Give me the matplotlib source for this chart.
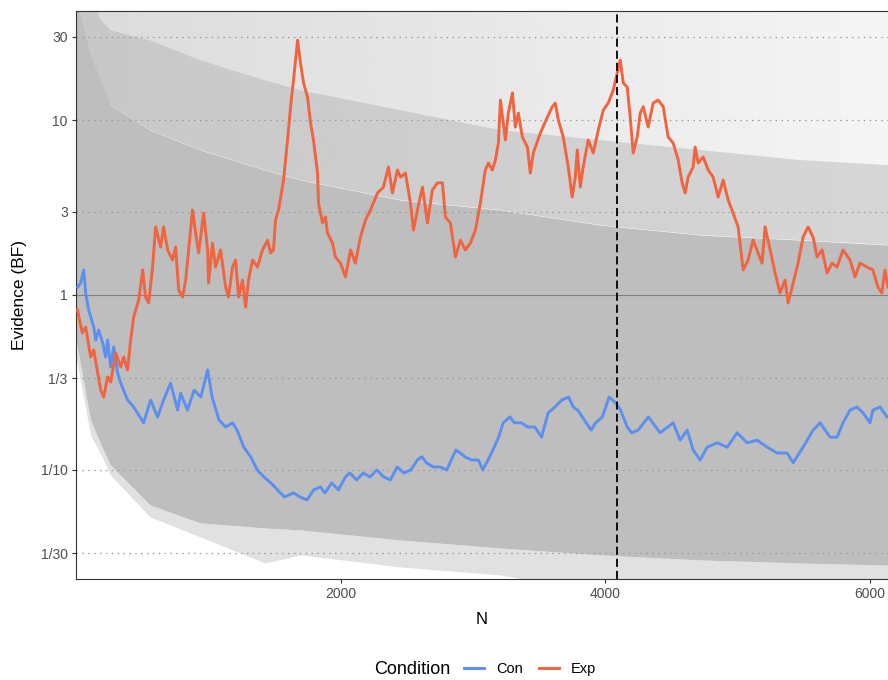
import numpy as np
import matplotlib
matplotlib.use("Agg")
import matplotlib.pyplot as plt
from matplotlib.lines import Line2D

plt.rcParams['font.family'] = ['Liberation Sans', 'DejaVu Sans']

# ---------------- data ----------------
exp_n = [11, 48, 73, 111, 134, 187, 209, 239, 262, 300, 338, 360, 390, 413, 436, 474, 504, 526, 549, 579,
         602, 640, 662, 693, 730, 753, 776, 806, 829, 881, 904, 927, 965, 995, 1002, 1032, 1055, 1093, 1131, 1153,
         1183, 1206, 1229, 1259, 1282, 1304, 1335, 1372, 1410, 1448, 1471, 1493, 1508, 1531, 1569, 1599, 1622, 1644, 1675, 1697,
         1720, 1750, 1773, 1795, 1826, 1833, 1863, 1886, 1901, 1939, 1961, 1999, 2037, 2075, 2112, 2150, 2188, 2226, 2279, 2324,
         2362, 2392, 2430, 2453, 2490, 2528, 2551, 2581, 2619, 2657, 2694, 2732, 2770, 2792, 2830, 2868, 2906, 2943, 2981, 3019,
         3057, 3094, 3117, 3147, 3170, 3193, 3208, 3246, 3268, 3299, 3321, 3344, 3374, 3412, 3434, 3457, 3510, 3563, 3600, 3623,
         3646, 3683, 3721, 3751, 3774, 3789, 3812, 3834, 3872, 3910, 3948, 3986, 4023, 4061, 4091, 4114, 4137, 4167, 4189, 4212,
         4242, 4265, 4288, 4325, 4363, 4401, 4439, 4476, 4514, 4552, 4582, 4605, 4627, 4665, 4680, 4703, 4741, 4779, 4816, 4854,
         4892, 4930, 4967, 5005, 5043, 5081, 5118, 5156, 5186, 5209, 5247, 5285, 5322, 5360, 5383, 5421, 5458, 5496, 5534, 5572,
         5602, 5640, 5677, 5715, 5753, 5798, 5851, 5889, 5926, 5979, 6024, 6062, 6092, 6115, 6138]
exp_bf = [0.821, 0.607, 0.656, 0.442, 0.485, 0.286, 0.261, 0.340, 0.318, 0.466, 0.388, 0.442, 0.373, 0.553, 0.748, 0.936, 1.39, 0.974, 0.900, 1.445,
          2.45, 1.88, 2.45, 1.81, 1.585, 1.88, 1.07, 0.974, 1.218, 3.06, 2.26, 1.738, 2.94, 1.81, 1.17, 1.98, 1.445, 1.81, 1.11, 0.974,
          1.445, 1.585, 0.974, 1.218, 0.854, 1.218, 1.585, 1.445, 1.81, 2.06, 1.738, 1.81, 2.68, 3.06, 4.54, 7.69, 11.9, 16.9, 28.6, 21.2,
          16.3, 13.5, 9.6, 7.69, 4.98, 3.36, 2.58, 2.79, 2.26, 1.98, 1.65, 1.52, 1.27, 1.81, 1.52, 2.14, 2.68, 3.06, 3.83, 4.14,
          5.39, 3.83, 5.18, 4.72, 4.98, 3.36, 2.35, 3.06, 4.14, 2.58, 3.98, 4.37, 4.37, 2.79, 2.58, 1.65, 2.06, 1.81, 1.98, 2.35,
          3.36, 5.18, 5.68, 5.18, 5.91, 7.39, 13.0, 7.69, 10.96, 14.3, 9.12, 10.96, 8.0, 7.01, 4.98, 6.48, 8.43, 10.4, 11.9, 12.5,
          10.0, 8.0, 5.39, 3.63, 4.72, 6.74, 4.14, 5.39, 7.69, 6.48, 8.77, 11.4, 12.5, 14.8, 18.6, 22.0, 16.3, 15.4, 10.4, 6.48,
          8.0, 10.96, 11.9, 9.12, 12.5, 13.0, 11.9, 8.0, 7.39, 5.91, 4.37, 3.83, 4.72, 5.39, 7.01, 5.68, 6.15, 5.18, 4.72, 3.63,
          4.54, 3.49, 2.94, 2.45, 1.39, 1.585, 2.06, 1.738, 1.52, 2.45, 1.81, 1.336, 1.027, 1.218, 0.900, 1.17, 1.52, 2.14, 2.45, 2.14,
          1.65, 1.81, 1.336, 1.52, 1.445, 1.81, 1.585, 1.27, 1.52, 1.445, 1.39, 1.11, 1.027, 1.39, 1.11]

con_n = [13, 35, 58, 73, 96, 134, 149, 171, 202, 224, 239, 262, 285, 315, 338, 390, 436, 511, 564, 617,
         662, 715, 768, 791, 842, 893, 944, 995, 1029, 1081, 1131, 1183, 1217, 1268, 1320, 1370, 1421, 1473, 1524, 1575,
         1644, 1694, 1745, 1797, 1848, 1882, 1933, 1984, 2036, 2070, 2121, 2171, 2223, 2274, 2326, 2376, 2428, 2479, 2530, 2581,
         2615, 2649, 2700, 2752, 2803, 2837, 2871, 2905, 2939, 2990, 3042, 3075, 3127, 3161, 3195, 3229, 3280, 3314, 3366, 3416,
         3468, 3519, 3569, 3621, 3672, 3724, 3758, 3792, 3843, 3894, 3928, 3979, 4030, 4082, 4116, 4167, 4201, 4250, 4326, 4416,
         4514, 4567, 4620, 4665, 4718, 4771, 4847, 4922, 4998, 5073, 5149, 5224, 5300, 5375, 5421, 5496, 5572, 5625, 5700, 5753,
         5798, 5851, 5904, 5949, 6002, 6024, 6077, 6130]
con_bf = [1.11, 1.17, 1.39, 1.027, 0.821, 0.656, 0.553, 0.631, 0.532, 0.442, 0.553, 0.388, 0.505, 0.358, 0.314, 0.251, 0.229, 0.186, 0.251, 0.201,
          0.251, 0.314, 0.220, 0.275, 0.220, 0.286, 0.261, 0.373, 0.261, 0.193, 0.176, 0.186, 0.169, 0.135, 0.119, 0.100, 0.0912, 0.0843, 0.0769, 0.0701,
          0.0739, 0.0701, 0.0674, 0.0769, 0.080, 0.0739, 0.0843, 0.0769, 0.0912, 0.0961, 0.0877, 0.0961, 0.0912, 0.100, 0.0912, 0.0877, 0.104, 0.0961, 0.100, 0.114,
          0.119, 0.110, 0.104, 0.104, 0.100, 0.114, 0.130, 0.125, 0.119, 0.114, 0.114, 0.100, 0.119, 0.135, 0.154, 0.186, 0.201, 0.186, 0.186, 0.176,
          0.176, 0.154, 0.212, 0.229, 0.251, 0.261, 0.229, 0.220, 0.193, 0.169, 0.186, 0.201, 0.261, 0.241, 0.220, 0.176, 0.163, 0.169, 0.201, 0.163,
          0.186, 0.148, 0.169, 0.130, 0.114, 0.135, 0.143, 0.135, 0.163, 0.143, 0.148, 0.135, 0.125, 0.125, 0.110, 0.135, 0.169, 0.186, 0.154, 0.154,
          0.186, 0.220, 0.229, 0.212, 0.186, 0.220, 0.229, 0.201]

# envelope of the grey simulated trajectories
env_n = [0, 110, 190, 260, 560, 940, 1430, 1700, 2450, 3210, 3960, 4720, 5470, 6140]
env_sparse_lo = [0.442, 0.158, 0.122, 0.0936, 0.0539, 0.0414, 0.0294, 0.0327, 0.0279, 0.0251, 0.02, 0.02, 0.02, 0.02]
env_dense_lo = [0.553, 0.193, 0.139, 0.107, 0.0631, 0.0498, 0.0466, 0.0454, 0.0398, 0.0358, 0.0327, 0.0306, 0.0294, 0.0286]
env_dense_hi = [50, 23.5, 16.9, 12.2, 8.77, 6.74, 5.18, 4.54, 3.49, 3.06, 2.51, 2.20, 2.06, 1.93]
env_mid_hi = [50, 50, 37.3, 32.7, 28.6, 22.0, 16.9, 14.8, 11.4, 8.77, 7.69, 6.74, 5.91, 5.53]
env_top = [50] * len(env_n)

marker_n = 4090
y_ticks = [1/30, 1/10, 1/3, 1, 3, 10, 30]
y_ticklabels = ["1/30", "1/10", "1/3", "1", "3", "10", "30"]
x_ticks = [2000, 4000, 6000]
conditions = ["Con", "Exp"]
cond_colors = {"Con": "#5B8FF0", "Exp": "#F0643F"}

# ---------------- figure ----------------
W, H = 888, 680
fig = plt.figure(figsize=(W / 100, H / 100), dpi=100)
left, right, top, bottom = 76, 888, 11, 579
ax = fig.add_axes([left / W, (H - bottom) / H, (right - left) / W, (bottom - top) / H])
ax.set_yscale('log')
XMAX, YMIN, YMAX = 6138, 1 / 42, 42

grey = '#BEBEBE'
grey_rgb = 190 / 255


def gradient_band(lo, hi, a_left, a_right):
    poly = ax.fill_between(env_n, lo, hi, color='none', lw=0)
    img = np.zeros((2, 256, 4))
    img[..., :3] = grey_rgb
    img[..., 3] = np.linspace(a_left, a_right, 256)[None, :]
    im = ax.imshow(img, extent=[0, XMAX, YMIN, YMAX], aspect='auto', origin='lower',
                   interpolation='bilinear', zorder=1)
    im.set_clip_path(poly.get_paths()[0], ax.transData)


ax.fill_between(env_n, env_sparse_lo, env_dense_lo, color=grey, alpha=0.45, lw=0, zorder=1)
ax.fill_between(env_n, env_dense_lo, env_dense_hi, color=grey, lw=0, zorder=1)
gradient_band(env_dense_hi, env_mid_hi, 0.85, 0.62)
gradient_band(env_mid_hi, env_top, 0.55, 0.15)

ax.set_xlim(0, XMAX)
ax.set_ylim(YMIN, YMAX)

for v in y_ticks:
    if v == 1:
        ax.axhline(v, color='#7f7f7f', lw=0.8, zorder=2)
    else:
        ax.axhline(v, color='#999999', lw=0.9, ls=(0, (1.2, 3.5)), zorder=2)

ax.plot(con_n, con_bf, color=cond_colors["Con"], lw=2.1, zorder=3, solid_joinstyle='round')
ax.plot(exp_n, exp_bf, color=cond_colors["Exp"], lw=2.1, zorder=3, solid_joinstyle='round')
ax.axvline(marker_n, color='black', lw=1.3, ls=(0, (4.5, 2.2)), zorder=4)

ax.set_yticks(y_ticks)
ax.set_yticklabels(y_ticklabels)
ax.yaxis.set_minor_locator(matplotlib.ticker.NullLocator())
ax.set_xticks(x_ticks)
ax.tick_params(axis='both', labelsize=10, colors='#333333', labelcolor='#4D4D4D', length=3, width=0.8, pad=3)

for s in ['left', 'bottom', 'top']:
    ax.spines[s].set_color('#333333')
    ax.spines[s].set_linewidth(0.8)
ax.spines['right'].set_visible(False)

ax.set_xlabel('N', fontsize=12, labelpad=8)
ax.set_ylabel('Evidence (BF)', fontsize=12.5, labelpad=10)

# legend at bottom
fig.text(412 / W, 1 - 669 / H, 'Condition', fontsize=13, ha='center', va='center')
handles = [Line2D([0], [0], color=cond_colors[c], lw=2.1) for c in conditions]
fig.legend(handles, conditions, loc='center left', bbox_to_anchor=(464 / W, 1 - 669 / H),
           ncol=2, frameon=False, fontsize=10.5, handlelength=1.4, handletextpad=0.8,
           columnspacing=1.1, borderpad=0, borderaxespad=0)

fig.savefig('out.png', dpi=100)
